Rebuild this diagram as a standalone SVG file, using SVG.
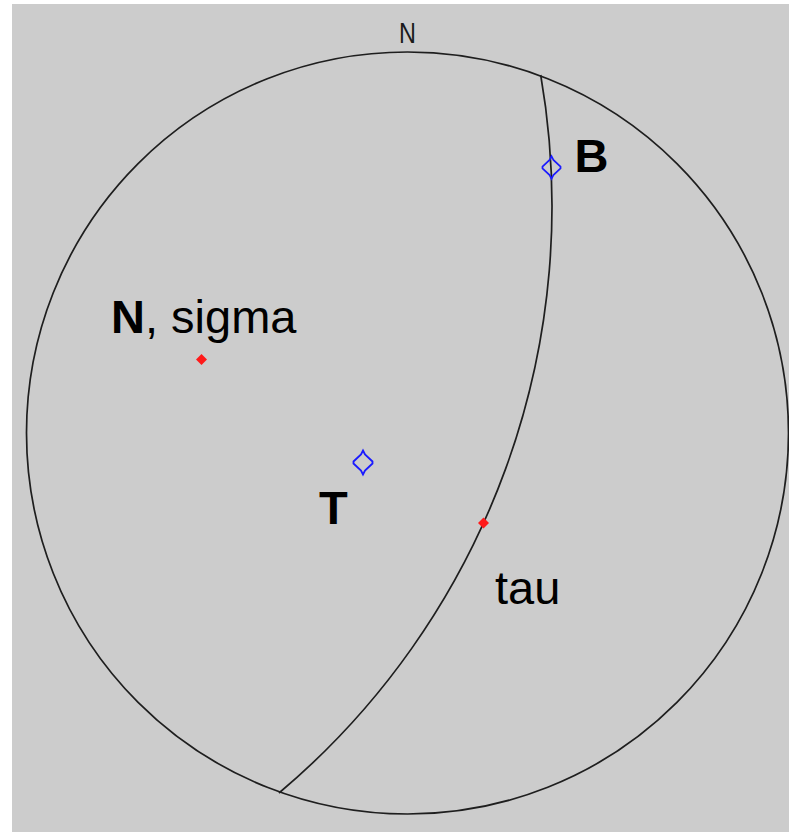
<svg xmlns="http://www.w3.org/2000/svg" width="789" height="832" viewBox="0 0 789 832">
  <defs>
    <style>
      .line { fill: none; stroke: #1e1e1e; stroke-width: 1.7; }
      .lbl { font-family: "Liberation Sans", Arial, sans-serif; font-size: 47px; fill: #000; }
      .bold { font-weight: bold; }
      .axis { fill: none; stroke: #1a1aff; stroke-width: 1.8; }
      .pole { fill: #ff1a1a; }
    </style>
    <path id="diamond" d="M0,-12 L2,-8 L9.5,-1 L9.5,1 L2,8 L0,12 L-2,8 L-9.5,1 L-9.5,-1 L-2,-8 Z"/>
    <path id="dot" d="M0,-5.5 L5.5,0 L0,5.5 L-5.5,0 Z"/>
  </defs>
  <rect x="0" y="0" width="789" height="832" fill="#ffffff"/>
  <rect x="12" y="4" width="777" height="828" fill="#cccccc"/>

  <g id="primitive">
    <circle class="line" cx="407.5" cy="433" r="381"/>
    <text transform="translate(407.5,43) scale(0.78,1)" text-anchor="middle" font-family="Liberation Sans, Arial, sans-serif" font-size="30" fill="#1a1a1a">N</text>
  </g>

  <g id="connectors">
    <path id="great-circle" class="line" d="M540.7,75 A767.3,767.3 0 0 1 279,793"/>
  </g>

  <g id="node-B">
    <use href="#diamond" class="axis" transform="translate(551.5,167.5) scale(0.95,0.95)"/>
    <text class="lbl bold" x="574.5" y="172">B</text>
  </g>

  <g id="node-T">
    <use href="#diamond" class="axis" transform="translate(363,462.5)"/>
    <text class="lbl bold" x="319" y="524">T</text>
  </g>

  <g id="node-N">
    <use href="#dot" class="pole" transform="translate(201.5,359.5)"/>
    <text class="lbl" x="111" y="333"><tspan class="bold">N</tspan>, sigma</text>
  </g>

  <g id="node-tau">
    <use href="#dot" class="pole" transform="translate(483.5,523)"/>
    <text class="lbl" x="495" y="604">tau</text>
  </g>
</svg>
